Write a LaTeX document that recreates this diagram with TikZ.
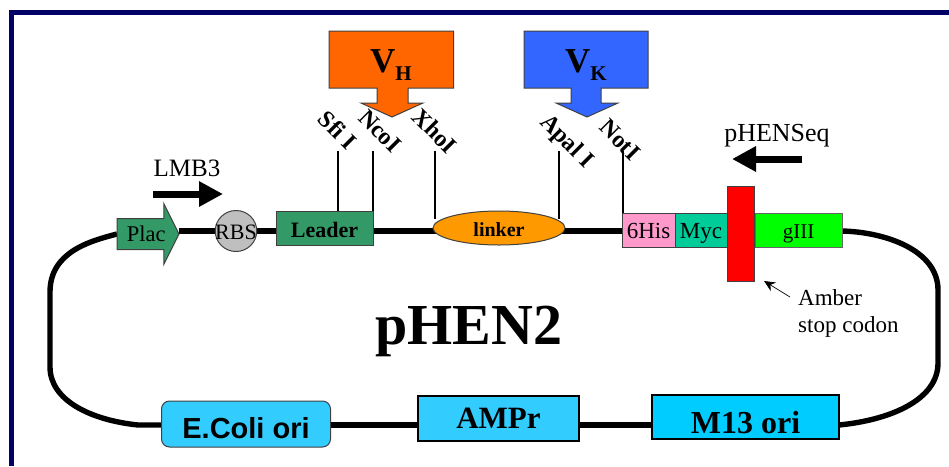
\documentclass[tikz,border=0pt]{standalone}
\usepackage{fontspec}
\setmainfont{Liberation Serif}
\newfontfamily\arialfont{Liberation Sans}
\usetikzlibrary{arrows.meta,shapes.geometric,shapes.arrows,backgrounds}
\definecolor{framenavy}{HTML}{000066}
\definecolor{plusgreen}{HTML}{339966}
\definecolor{linkerorange}{HTML}{FF9900}
\definecolor{hisrose}{HTML}{FF99CC}
\definecolor{myclgreen}{HTML}{00CC99}
\definecolor{oriblue}{HTML}{33CCFF}
\definecolor{mblue}{HTML}{00CCFF}
\definecolor{vhorange}{HTML}{FF6600}
\definecolor{vkblue}{HTML}{3366FF}
\newcommand{\pxfont}[1]{\fontsize{#1}{#1}\selectfont}
\begin{document}
\begin{tikzpicture}[x=1pt,y=-1pt,
  backbone/.style={line width=5.4pt},
  sitetick/.style={line width=2.8pt},
  primer/.style={line width=7pt,-{Triangle[length=24pt,width=24pt]}},
  genebox/.style={draw=black!75,line width=1pt,inner sep=0pt,outer sep=0pt,text depth=0pt,text height=16pt,font=\pxfont{23}},
  oribox/.style={genebox,draw=black,line width=2pt,font=\pxfont{31}\bfseries},
  cutsite/.style={rotate=-45,inner sep=0pt,font=\pxfont{24}\bfseries},
  insertarrow/.style={draw=black!75,line width=1pt}]
\useasboundingbox (0,0) rectangle (949,466);
\draw[line width=5pt,framenavy] (11,466) -- (11,12) -- (949,12);

\draw[insertarrow,fill=vhorange] (329,31) -- (453.5,31) -- (453.5,88) -- (408,88) -- (408,103) -- (423,103) -- (392,117) -- (361,103) -- (377,103) -- (377,88) -- (329,88) -- cycle;
\draw[insertarrow,fill=vkblue] (524,31) -- (648,31) -- (648,88) -- (601,88) -- (601,103) -- (618,103) -- (587,117) -- (556,103) -- (571,103) -- (571,88) -- (524,88) -- cycle;
\node[font=\pxfont{35}\bfseries] (vh) at (391,65) {V\raisebox{-8pt}{\pxfont{21}H}};
\node[font=\pxfont{35}\bfseries] (vk) at (586,65) {V\raisebox{-8pt}{\pxfont{21}K}};

\node[single arrow,anchor=tail,draw=black!75,line width=1pt,fill=plusgreen,inner sep=0pt,outer sep=0pt,
  minimum height=62pt,minimum width=60pt,single arrow head extend=15pt,single arrow head indent=0pt,
  single arrow tip angle=127,text height=22.5pt,text depth=7.5pt,font=\pxfont{22.5}] (plac) at (117,234) {\hspace{4pt}Plac};
\node[genebox,ellipse,fill=black!25,minimum width=41.5pt,minimum height=41pt,font=\pxfont{22}] (rbs) at (236,231) {\makebox[0pt]{RBS}};
\node[genebox,fill=plusgreen,minimum width=97pt,minimum height=34pt,text height=18pt,font=\pxfont{22}\bfseries] (leader) at (324.5,228) {Leader};
\node[genebox,ellipse,fill=linkerorange,minimum width=132pt,minimum height=34pt,font=\pxfont{20}\bfseries] (linker) at (499,228) {linker};
\node[genebox,fill=hisrose,minimum width=53pt,minimum height=34pt] (his) at (648.5,230) {6His};
\node[genebox,fill=myclgreen,minimum width=52pt,minimum height=34pt] (myc) at (701,230) {Myc};
\node[genebox,fill=green,draw=black!60,minimum width=87pt,minimum height=34pt,font=\pxfont{21}] (gene) at (798.5,230) {gIII};
\node[genebox,fill=red,minimum width=27pt,minimum height=95pt] (amber) at (741,234) {};

\node[oribox,fill=oriblue,rounded corners=8pt,line width=1pt,draw=black!75,minimum width=169pt,minimum height=46pt,text height=28pt,font=\pxfont{29}\arialfont\bfseries] (ecoli) at (246,424) {E.Coli ori};
\node[oribox,fill=oriblue,minimum width=161pt,minimum height=45pt,text height=20pt] (ampr) at (498.5,418) {AMPr};
\node[oribox,fill=mblue,minimum width=187pt,minimum height=44pt,text height=32pt,font=\pxfont{32}\bfseries] (mori) at (745.5,417) {M13 ori};

\begin{scope}[on background layer]
\draw[backbone] (plac.tip |- rbs) -- (rbs) -- (leader.center |- rbs) -- (linker.center |- rbs) -- (his.center |- rbs);
\draw[backbone] (plac.tail) .. controls (90,241) and (50,252) .. (50,292) -- (50,367) .. controls (50,400) and (90,420) .. (138,425) -- (ecoli.west |- 0,425);
\draw[backbone] (gene.east |- rbs) .. controls (885,232) and (938,250) .. (938,290) -- (938,363) .. controls (938,400) and (890,420) .. (mori.east |- 0,425);
\draw[backbone] (ecoli.east |- 0,425) -- (ampr.west |- 0,425);
\draw[backbone] (ampr.east |- 0,425) -- (mori.west |- 0,425);
\end{scope}

\coordinate (sfiend) at (338,151);
\coordinate (ncoend) at (373,151);
\coordinate (xhoend) at (435,151);
\coordinate (apaend) at (559,151);
\coordinate (notend) at (623,151);
\draw[sitetick] (sfiend) -- (sfiend |- leader.north);
\draw[sitetick] (ncoend) -- (ncoend |- leader.north);
\draw[sitetick] (xhoend) -- (435,219);
\draw[sitetick] (apaend) -- (559,219);
\draw[sitetick] (notend) -- (notend |- his.north);

\node[cutsite] (sfi) at (338,130) {Sfi I};
\node[cutsite] (nco) at (380,131) {NcoI};
\node[cutsite] (xho) at (435,131) {XhoI};
\node[cutsite] (apa) at (566,142) {Apal I};
\node[cutsite] (not) at (620,140) {NotI};

\node[font=\pxfont{25}] (lmb) at (187,168) {LMB3};
\coordinate (lmbtail) at (153,194);
\coordinate (lmbtip) at (223,194);
\draw[primer] (lmbtail) -- (lmbtip);
\node[font=\pxfont{26}] (seq) at (777,136) {pHENSeq};
\coordinate (seqtail) at (802,159);
\coordinate (seqtip) at (732,159);
\draw[primer] (seqtail) -- (seqtip);

\node[font=\pxfont{58}\bfseries] (name) at (469,331) {pHEN2};
\node[font=\pxfont{23},align=left,anchor=north west,inner sep=0pt] (stop) at (798,289) {Amber\\[4pt]stop codon};
\coordinate (stoptail) at (790,297);
\coordinate (stoptip) at (764,281);
\draw[line width=.7pt,-{Stealth[length=11pt,width=10pt]}] (stoptail) -- (stoptip);
\end{tikzpicture}
\end{document}
